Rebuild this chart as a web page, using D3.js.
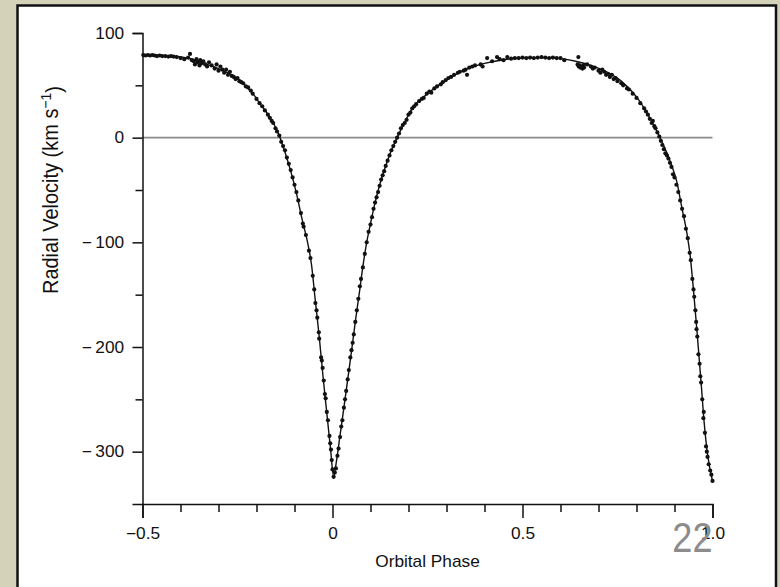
<!DOCTYPE html>
<html>
<head>
<meta charset="utf-8">
<script src="https://cdn.jsdelivr.net/npm/d3@7/dist/d3.min.js"></script>
<style>
body{margin:0;background:#d5d2ba;overflow:hidden;}
</style>
</head>
<body>
<div id="chart"></div>
<script>
/////////////////////////////////////////////////////////////////////
/////////////////////////data/////////////////////
/////////////////////////////////////////////////////////////////////
// fitted orbit curve
var curvePhase = [-0.50,-0.45,-0.41,-0.37,-0.33,-0.30,-0.27,-0.245,-0.225,-0.205,-0.19,-0.175,-0.157,-0.138,-0.125,-0.11,-0.095,-0.08,-0.065,-0.055,-0.046,-0.035,-0.025,-0.015,-0.005,0.003,0.01,0.02,0.03,0.04,0.05,0.06,0.07,0.08,0.09,0.10,0.112,0.125,0.14,0.155,0.17,0.186,0.21,0.25,0.30,0.35,0.40,0.45,0.50,0.55,0.60,0.64,0.68,0.72,0.76,0.80,0.835,0.862,0.888,0.906,0.92,0.933,0.941,0.951,0.959,0.97,0.978,0.986,1.0];
var curveVel = [79,78.5,77.5,75,70,66,61,55,48,40,32,25,15,0,-14,-32,-53,-78,-101,-122,-153,-190,-228,-263,-298,-324,-310,-284,-258,-231,-204,-176,-150,-123,-100,-82,-62,-44,-27,-12,0,12,28,42,55,65,71,74.5,76,76.5,75.5,73,69,63,54,39,19,0,-22,-42,-68,-92,-112,-150,-184,-234,-272,-300,-328];

// observed velocities
var obsPhase = [-0.498,-0.492,-0.486,-0.48,-0.474,-0.468,-0.462,-0.455,-0.448,-0.44,-0.432,-0.425,-0.418,-0.41,
  -0.40,-0.39,-0.38,-0.375,-0.37,-0.365,-0.362,-0.358,-0.355,-0.35,-0.348,-0.345,-0.34,-0.335,-0.33,-0.325,-0.318,-0.31,-0.305,-0.30,-0.295,-0.29,-0.285,-0.28,-0.275,-0.27,-0.265,-0.26,-0.255,-0.25,-0.245,-0.24,-0.235,-0.228,-0.222,-0.215,-0.21,-0.20,-0.192,-0.185,-0.178,-0.17,-0.165,-0.16,-0.156,-0.15,-0.146,-0.14,-0.135,-0.13,-0.125,-0.12,-0.115,-0.11,-0.105,-0.10,-0.095,-0.09,-0.083,-0.078,-0.076,-0.07,-0.062,-0.058,-0.052,-0.048,-0.045,-0.042,-0.04,-0.036,-0.035,-0.03,-0.028,-0.026,-0.023,-0.02,-0.018,-0.015,-0.012,-0.008,-0.006,-0.004,-0.002,0.0,0.003,0.006,0.009,0.013,0.016,0.02,0.023,0.026,0.03,0.033,0.036,0.04,0.043,0.047,0.05,0.053,0.056,0.06,0.064,0.068,0.072,0.075,0.08,0.085,0.09,0.095,0.10,0.104,0.108,0.112,0.116,0.12,0.124,0.128,0.132,0.136,0.14,0.145,0.15,0.155,0.16,0.165,0.17,0.175,0.18,0.185,0.19,0.195,0.20,0.205,0.21,0.215,0.22,0.228,0.235,0.24,0.248,0.255,0.26,0.268,0.275,0.285,0.29,0.298,0.305,0.312,0.32,0.33,0.335,0.345,0.35,0.354,0.36,0.368,0.375,0.39,0.395,0.407,0.42,0.433,0.44,0.45,0.46,0.47,0.48,0.49,0.50,0.51,0.52,0.53,0.54,0.55,0.56,0.57,0.58,0.59,0.60,0.61,0.647,0.645,0.648,0.65,0.652,0.655,0.658,0.66,0.662,0.67,0.68,0.685,0.69,0.70,0.705,0.71,0.715,0.72,0.725,0.73,0.735,0.74,0.745,0.75,0.76,0.765,0.775,0.78,0.79,0.80,0.81,0.82,0.825,0.83,0.835,0.84,0.843,0.847,0.85,0.855,0.86,0.864,0.868,0.872,0.876,0.88,0.884,0.888,0.892,0.896,0.90,0.905,0.91,0.915,0.92,0.925,0.93,0.935,0.94,0.943,0.947,0.95,0.952,0.955,0.957,0.958,0.96,0.963,0.966,0.968,0.97,0.973,0.976,0.977,0.98,0.983,0.985,0.987,0.99,0.994,0.997,1.0];
var obsVel = [79,78.5,79,78.5,79,78.5,78,78.5,78,78,77.5,78,77.5,77,
  76,75,76.5,80,74,73,70,75,72,69,74,71,73,70,68,72,69,66,70,64,68,65,62,65,60,63,59,58,56,57,54,53,52,49,48,45,42,37,33,30,26,22,19,16,14,9,6,2,-4,-8,-12,-19,-25,-31,-38,-45,-52,-60,-72,-82,-85,-93,-108,-115,-132,-145,-158,-165,-172,-186,-192,-210,-213,-220,-232,-245,-249,-262,-270,-285,-292,-298,-308,-317,-324,-320,-316,-304,-297,-286,-276,-270,-258,-250,-242,-231,-222,-210,-203,-196,-188,-176,-165,-154,-142,-135,-124,-111,-100,-90,-83,-76,-68,-62,-57,-52,-46,-40,-36,-32,-27,-22,-17,-12,-8,-4,0,4,9,12,14,17,22,24,28,30,32,35,37,38,42,44,43,47,49,51,53,55,57,58,60,62,63,64,65,60,67,68,69,70,68,76,73,77,75,74,77,75.5,76,76,76.5,76,76.5,76,76.5,77,76.5,76,76.5,76,76,74,77,70,68,69,67,68,66,69,67,70,68,66,67,64,62,65,63,60,61,58,60,56,57,54,52,50,47,46,42,38,33,28,25,22,18,14,16,11,9,5,1,-3,-7,-11,-15,-17,-20,-24,-28,-35,-38,-45,-52,-60,-68,-75,-87,-96,-110,-117,-135,-145,-152,-165,-176,-183,-190,-207,-216,-228,-234,-250,-268,-262,-282,-295,-300,-305,-312,-318,-322,-328];

var xMajor = [-0.5, 0, 0.5, 1.0];
var xMajorLabels = ["\u22120.5", "0", "0.5", "1.0"];
var xMinor = [-0.4, -0.3, -0.2, -0.1, 0.1, 0.2, 0.3, 0.4, 0.6, 0.7, 0.8, 0.9];
var yMajor = [100, 0, -100, -200, -300];
var yMajorLabels = ["100", "0", "\u2212\u2009100", "\u2212\u2009200", "\u2212\u2009300"];
var yMinor = [50, -50, -150, -250];

/////////////////////////////////////////////////////////////////////
/////////////////////////global variables/////////////////////////////
/////////////////////////////////////////////////////////////////////
var wdim = 780, hdim = 587;
var plot = {left: 142.5, right: 712.5, top: 33, bottom: 504};
var fontFam = "'Liberation Sans', Arial, Helvetica, sans-serif";
var stretch = 1.08; // the scan is a bit wider than tall

var svg = d3.select("#chart").append("svg")
  .attr("width", wdim)
  .attr("height", hdim);

var x = d3.scaleLinear().domain([-0.5, 1.0]).range([plot.left, plot.right]);
var y = d3.scaleLinear().domain([-350, 100]).range([plot.bottom, plot.top]);

/////////////////////////////////////////////////////////////////
/////////////////////panel//////////////////////////////////////
///////////////////////////////////////////////////////////////
svg.append("rect")
  .attr("x", 17.5).attr("y", 5.5)
  .attr("width", 758.5).attr("height", 600)
  .attr("fill", "#fff")
  .attr("stroke", "#111")
  .attr("stroke-width", 2.5);

// zero velocity line
svg.append("line")
  .attr("x1", x(-0.5)).attr("x2", x(1.0))
  .attr("y1", y(0)).attr("y2", y(0))
  .attr("stroke", "#8a8a8a")
  .attr("stroke-width", 1.6);

/////////////////////////////////////////////////////////////////
/////////////////////curve and points///////////////////////////
///////////////////////////////////////////////////////////////
var line = d3.line()
  .x(function(d, i){ return x(curvePhase[i]); })
  .y(function(d, i){ return y(curveVel[i]); })
  .curve(d3.curveMonotoneX);

svg.append("path")
  .datum(curveVel)
  .attr("d", line)
  .attr("fill", "none")
  .attr("stroke", "#111")
  .attr("stroke-width", 1.4);

svg.append("g").selectAll("circle")
  .data(obsPhase)
  .enter().append("circle")
  .attr("cx", function(d){ return x(d); })
  .attr("cy", function(d, i){ return y(obsVel[i]); })
  .attr("r", 2.1)
  .attr("fill", "#111");

/////////////////////////////////////////////////////////////////
/////////////////////axes///////////////////////////////////////
///////////////////////////////////////////////////////////////
function style_axis(g){
  g.selectAll("path, line").attr("stroke", "#111").attr("stroke-width", 1.5);
  g.selectAll("text")
    .attr("font-family", fontFam)
    .attr("font-size", "16px")
    .attr("fill", "#111")
    .attr("transform", "scale(" + stretch + ",1)");
}

var xAxis = d3.axisBottom(x)
  .tickValues(xMajor)
  .tickSize(14).tickSizeOuter(14).tickPadding(10)
  .tickFormat(function(d, i){ return xMajorLabels[i]; });
var gx = svg.append("g").attr("transform", "translate(0," + plot.bottom + ")").call(xAxis);
gx.attr("font-size", null).attr("font-family", null);
style_axis(gx);

var gxm = svg.append("g").attr("transform", "translate(0," + plot.bottom + ")")
  .call(d3.axisBottom(x).tickValues(xMinor).tickSize(8).tickFormat(""));
gxm.select(".domain").remove();
style_axis(gxm);

var yAxis = d3.axisLeft(y)
  .tickValues(yMajor)
  .tickSize(10).tickSizeOuter(10).tickPadding(7)
  .tickFormat(function(d, i){ return yMajorLabels[i]; });
var gy = svg.append("g").attr("transform", "translate(" + plot.left + ",0)").call(yAxis);
gy.attr("font-size", null).attr("font-family", null);
style_axis(gy);

var gym = svg.append("g").attr("transform", "translate(" + plot.left + ",0)")
  .call(d3.axisLeft(y).tickValues(yMinor).tickSize(7).tickFormat(""));
gym.select(".domain").remove();
style_axis(gym);

/////////////////////////////////////////////////////////////////
/////////////////////titles/////////////////////////////////////
///////////////////////////////////////////////////////////////
svg.append("text")
  .attr("transform", "translate(" + ((plot.left + plot.right) / 2) + ",567) scale(" + stretch + ",1)")
  .attr("text-anchor", "middle")
  .attr("font-family", fontFam)
  .attr("font-size", "16px")
  .attr("fill", "#111")
  .text("Orbital Phase");

var ylab = svg.append("text")
  .attr("transform", "translate(58,190) scale(" + stretch + ",1) rotate(-90)")
  .attr("text-anchor", "middle")
  .attr("font-family", fontFam)
  .attr("font-size", "20px")
  .attr("fill", "#111");
ylab.append("tspan").text("Radial Velocity (km s");
ylab.append("tspan").attr("dy", "-0.45em").attr("font-size", "0.7em").text("\u22121");
ylab.append("tspan").attr("dy", "0.45em").text(")");

// slide number sitting on top of the figure
svg.append("text")
  .attr("transform", "translate(712.5,552) scale(0.86,1)")
  .attr("text-anchor", "end")
  .attr("font-family", fontFam)
  .attr("font-size", "42px")
  .attr("fill", "#8c8c8c")
  .text("22");
</script>
</body>
</html>
